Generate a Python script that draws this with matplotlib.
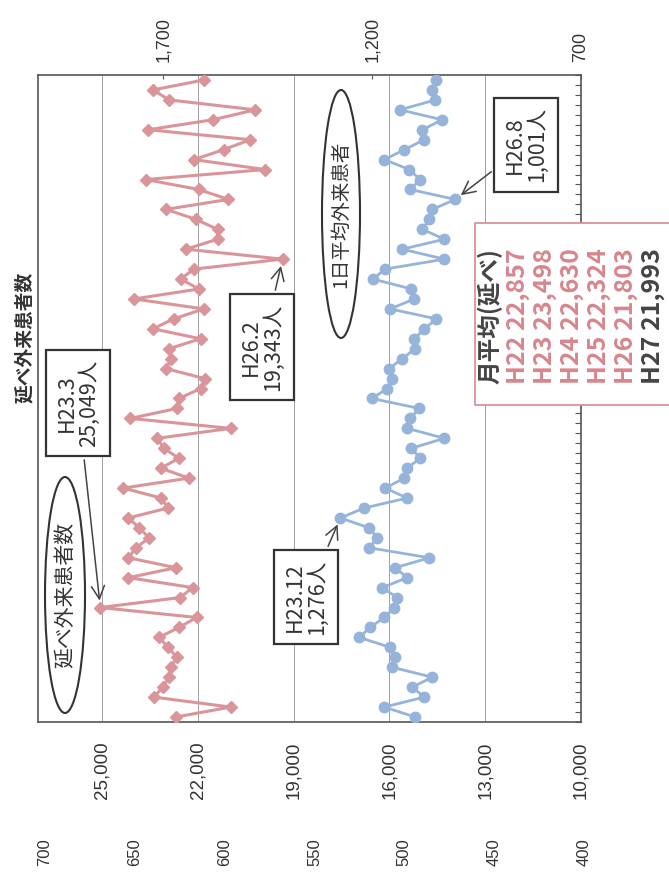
import numpy as np
import matplotlib.pyplot as plt
from matplotlib.patches import Ellipse, Rectangle

plt.rcParams['font.family'] = ['Noto Sans CJK JP', 'DejaVu Sans']

# 延べ外来患者数（月別, H22.4～H27.8）
gairai_h22 = [22680, 20970, 23370, 23090, 22900, 22840, 22650, 22930, 23210, 22590, 22030, 25049]
gairai_h23 = [22560, 22150, 24170, 22680, 24170, 23930, 23520, 23830, 24170, 22930, 23150, 24330]
gairai_h24 = [22280, 23150, 22590, 23060, 23270, 20970, 24110, 22650, 22590, 21910, 21780, 22990]
gairai_h25 = [22840, 22900, 21910, 23400, 22750, 21810, 23990, 21970, 22530, 22120, 19343, 22370]
gairai_h26 = [21380, 21380, 22060, 22990, 21040, 21970, 23620, 19890, 22120, 21190, 20350, 23550]
gairai_h27 = [21530, 20200, 22900, 23400, 21810]

# 1日平均外来患者数
heikin_h22 = [1097, 1171, 1075, 1104, 1056, 1152, 1145, 1157, 1231, 1205, 1171, 1147]
heikin_h23 = [1140, 1176, 1116, 1145, 1063, 1207, 1188, 1207, 1276, 1219, 1116, 1169]
heikin_h24 = [1123, 1116, 1085, 1106, 1027, 1116, 1109, 1087, 1200, 1164, 1152, 1159]
heikin_h25 = [1128, 1097, 1099, 1075, 1046, 1157, 1099, 1106, 1198, 1169, 1027, 1128]
heikin_h26 = [1027, 1080, 1063, 1056, 1001, 1109, 1085, 1111, 1171, 1123, 1075, 1080]
heikin_h27 = [1032, 1133, 1049, 1056, 1046]

gairai = gairai_h22 + gairai_h23 + gairai_h24 + gairai_h25 + gairai_h26 + gairai_h27
heikin = heikin_h22 + heikin_h23 + heikin_h24 + heikin_h25 + heikin_h26 + heikin_h27

# 月平均（延べ）
avg_years = ['H22', 'H23', 'H24', 'H25', 'H26', 'H27']
avg_values = [22857, 23498, 22630, 22324, 21803, 21993]

left_ticks = [10000, 13000, 16000, 19000, 22000, 25000]
right_ticks = [700, 1200, 1700]
other_ticks = [400, 450, 500, 550, 600, 650, 700]  # 隣のグラフの目盛り

PINK = '#D9959A'
PINK_TXT = '#D8868E'
BLUE = '#96B3DA'
DARK = '#333333'

W, H = 669, 872


def fx(px):
    return px / W


def fy(py):
    return 1 - py / H


fig = plt.figure(figsize=(W / 100, H / 100), dpi=100)

# グラフは90度回転した状態で描く（時間軸が下から上）
ax = fig.add_axes([fx(38), fy(722), fx(581) - fx(38), fy(75) - fy(722)])
idx = np.arange(len(gairai))
ax.plot(gairai, idx, color=PINK, lw=2.2, marker='D', ms=6.5, zorder=3)
ax.set_xlim(27000, 10000)
ax.set_ylim(-0.5, len(idx) - 0.5)
ax.set_xticks(left_ticks)
ax.set_xticklabels([f'{v:,}' for v in left_ticks], rotation=90,
                   fontfamily='Liberation Sans', fontsize=13.5, color=DARK)
ax.tick_params(axis='x', length=0, pad=14)
ax.grid(axis='x', color='#a0a0a0', lw=0.7)
ax.yaxis.tick_right()
ax.set_yticks(np.arange(-0.5, len(idx), 1))
ax.tick_params(axis='y', direction='in', length=4, labelright=False, color='#555555')
for s in ax.spines.values():
    s.set_color('#555555')
    s.set_linewidth(1.2)

ax2 = ax.twiny()
ax2.plot(heikin, idx, color=BLUE, lw=2.0, marker='o', ms=7.5, zorder=3)
ax2.set_xlim(2000, 700)
ax2.set_xticks(right_ticks)
ax2.set_xticklabels([f'{v:,}' for v in right_ticks], rotation=90,
                    fontfamily='Liberation Sans', fontsize=13, color=DARK)
ax2.tick_params(axis='x', direction='in', length=3, pad=9, color='#555555')
for s in ax2.spines.values():
    s.set_visible(False)


def note(axis, text, xy, center):
    axis.annotate(text, xy=xy, xycoords='data',
                  xytext=(fx(center[0]), fy(center[1])), textcoords='figure fraction',
                  rotation=90, ha='center', va='center', multialignment='center',
                  fontsize=15.5, color=DARK, linespacing=1.0, zorder=6,
                  bbox=dict(boxstyle='square,pad=0.45', fc='white', ec='#333333', lw=1.6),
                  arrowprops=dict(arrowstyle='->,head_length=0.6,head_width=0.3',
                                  color='#444444', lw=1.1, shrinkB=5))


note(ax, 'H23.3\n25,049人', (gairai[11], 11), (78, 403))
note(ax, 'H26.2\n19,343人', (gairai[46], 46), (262, 347))
note(ax2, 'H23.12\n1,276人', (heikin[20], 20), (306, 597))
note(ax2, 'H26.8\n1,001人', (heikin[52], 52), (526, 145))

# 系列名の楕円
for cx, cy, w, h, label, fs in [(65, 595, 40, 236, '延べ外来患者数', 15),
                                (341, 214, 38, 248, '1日平均外来患者', 14)]:
    fig.add_artist(Ellipse((fx(cx), fy(cy)), w / W, h / H, transform=fig.transFigure,
                           fc='white', ec='#333333', lw=1.5, zorder=5))
    fig.text(fx(cx), fy(cy), label, rotation=90, ha='center', va='center',
             fontsize=fs, color=DARK, zorder=6)

# タイトル
fig.text(fx(25), fy(337), '延べ外来患者数', rotation=90, ha='center', va='center',
         fontsize=13.5, fontweight='bold', color=DARK)

# 月平均の枠
fig.add_artist(Rectangle((fx(475), fy(405)), fx(720) - fx(475), (405 - 223) / H,
                         transform=fig.transFigure, fc='white', ec='#D88A90', lw=1.2, zorder=5))
cols = [490, 518, 545, 572, 599, 626, 653]
fig.text(fx(cols[0]), fy(384), '月平均(延べ)', rotation=90, ha='center', va='bottom',
         fontsize=17, fontweight='bold', color='#444444', zorder=6)
for i, (yr, val) in enumerate(zip(avg_years, avg_values)):
    c = '#444444' if yr == 'H27' else PINK_TXT
    fig.text(fx(cols[i + 1]), fy(384), f'{yr} {val:,}', rotation=90, ha='center', va='bottom',
             fontsize=18, fontweight='bold', color=c, zorder=6)

# 下に残っている隣のグラフの目盛り
ax3 = fig.add_axes([fx(45), fy(838), fx(584) - fx(45), 0.001])
ax3.set_xlim(700, 400)
ax3.set_xticks(other_ticks)
ax3.set_xticklabels([str(v) for v in other_ticks], rotation=90,
                    fontfamily='Liberation Sans', fontsize=12, color=DARK)
ax3.tick_params(axis='x', length=0, pad=0)
ax3.set_yticks([])
for s in ax3.spines.values():
    s.set_visible(False)
ax3.patch.set_visible(False)

fig.savefig('out.png', dpi=100)
